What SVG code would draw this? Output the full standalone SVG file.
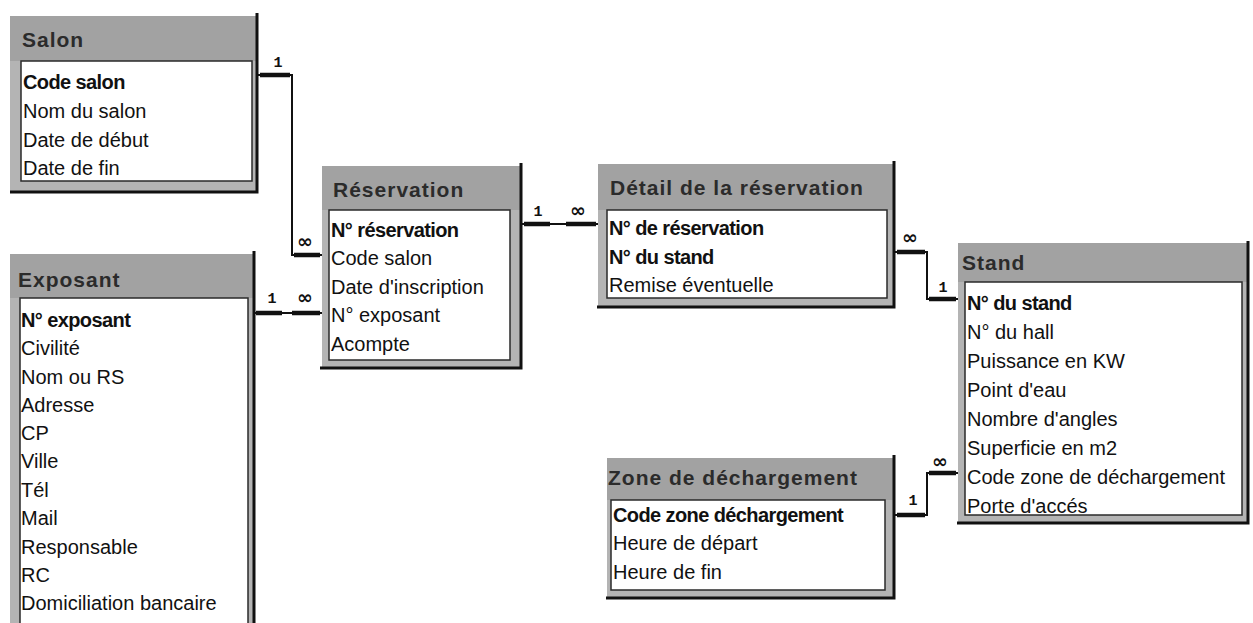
<svg xmlns="http://www.w3.org/2000/svg" width="1253" height="623" viewBox="0 0 1253 623">
<style>
  .frame { fill: #b4b4b4; }
  .title { fill: #a2a2a2; }
  .edge { stroke: #111; stroke-width: 3; fill: none; }
  .field { fill: #ffffff; stroke: #2a2a2a; stroke-width: 1.5; }
  .ttl { font-family: "Liberation Sans", Arial, sans-serif; font-size: 21px; font-weight: bold; fill: #2b2b2b; letter-spacing: 1px; }
  .row { font-family: "Liberation Sans", Arial, sans-serif; font-size: 20px; fill: #111; }
  .key { font-weight: bold; letter-spacing: -0.6px; }
  .ln { stroke: #111; stroke-width: 2; fill: none; }
  .thick { stroke: #111; stroke-width: 4.5; fill: none; }
  .one { font-family: "Liberation Mono", "Courier New", monospace; font-size: 15px; font-weight: bold; fill: #111; text-anchor: middle; }
  .many { font-family: "DejaVu Sans", sans-serif; font-size: 19px; font-weight: bold; fill: #111; text-anchor: middle; }
</style>

<g id="connectors">
  <path class="ln" d="M258,75 H292 V255 H322"/>
  <path class="thick" d="M260,75 H290 M294,255 H320"/>
  <text class="one" x="278" y="67">1</text>
  <text class="many" x="305" y="248">∞</text>

  <path class="ln" d="M255,313 H322"/>
  <path class="thick" d="M256,313 H282 M292,313 H320"/>
  <text class="one" x="272" y="303">1</text>
  <text class="many" x="305" y="304">∞</text>

  <path class="ln" d="M522,224 H598"/>
  <path class="thick" d="M524,224 H550 M566,224 H596"/>
  <text class="one" x="538" y="216">1</text>
  <text class="many" x="578" y="217">∞</text>

  <path class="ln" d="M895,252 H927 V299 H958"/>
  <path class="thick" d="M897,252 H925 M929,299 H956"/>
  <text class="many" x="910" y="244">∞</text>
  <text class="one" x="943" y="292">1</text>

  <path class="ln" d="M895,515 H927 V473 H958"/>
  <path class="thick" d="M897,515 H925 M929,473 H956"/>
  <text class="many" x="940" y="468">∞</text>
  <text class="one" x="913" y="505">1</text>
</g>

<g id="salon">
  <rect class="frame" x="10" y="16" width="248" height="176"/>
  <rect class="title" x="10" y="16" width="248" height="45"/>
  <path class="edge" d="M257,13 V192 H10"/>
  <rect class="field" x="21" y="61" width="231" height="120"/>
  <text class="ttl" x="22" y="47">Salon</text>
  <text class="row key" x="23" y="89">Code salon</text>
  <text class="row" x="23" y="118">Nom du salon</text>
  <text class="row" x="23" y="147">Date de début</text>
  <text class="row" x="23" y="175">Date de fin</text>
</g>

<g id="exposant">
  <rect class="frame" x="10" y="254" width="245" height="372"/>
  <rect class="title" x="10" y="254" width="245" height="44"/>
  <path class="edge" d="M254,251 V626"/>
  <rect class="field" x="20" y="298" width="228" height="330"/>
  <text class="ttl" x="18" y="287">Exposant</text>
  <text class="row key" x="21" y="327">N° exposant</text>
  <text class="row" x="21" y="355">Civilité</text>
  <text class="row" x="21" y="384">Nom ou RS</text>
  <text class="row" x="21" y="412">Adresse</text>
  <text class="row" x="21" y="440">CP</text>
  <text class="row" x="21" y="468">Ville</text>
  <text class="row" x="21" y="497">Tél</text>
  <text class="row" x="21" y="525">Mail</text>
  <text class="row" x="21" y="554">Responsable</text>
  <text class="row" x="21" y="582">RC</text>
  <text class="row" x="21" y="610">Domiciliation bancaire</text>
</g>

<g id="reservation">
  <rect class="frame" x="322" y="166" width="200" height="202"/>
  <rect class="title" x="322" y="166" width="200" height="44"/>
  <path class="edge" d="M521,163 V368 H320"/>
  <rect class="field" x="329" y="210" width="181" height="150"/>
  <text class="ttl" x="333" y="197">Réservation</text>
  <text class="row key" x="331" y="237">N° réservation</text>
  <text class="row" x="331" y="265">Code salon</text>
  <text class="row" x="331" y="294">Date d'inscription</text>
  <text class="row" x="331" y="322">N° exposant</text>
  <text class="row" x="331" y="351">Acompte</text>
</g>

<g id="detail">
  <rect class="frame" x="598" y="164" width="297" height="143"/>
  <rect class="title" x="598" y="164" width="297" height="46"/>
  <path class="edge" d="M894,161 V307 H597"/>
  <rect class="field" x="607" y="210" width="280" height="88"/>
  <text class="ttl" x="610" y="195">Détail de la réservation</text>
  <text class="row key" x="609" y="235">N° de réservation</text>
  <text class="row key" x="609" y="264">N° du stand</text>
  <text class="row" x="609" y="292">Remise éventuelle</text>
</g>

<g id="stand">
  <rect class="frame" x="958" y="243" width="290" height="280"/>
  <rect class="title" x="958" y="243" width="290" height="39"/>
  <path class="edge" d="M1248,241 V523 H957"/>
  <rect class="field" x="965" y="282" width="277" height="233"/>
  <text class="ttl" x="962" y="270">Stand</text>
  <text class="row key" x="967" y="310">N° du stand</text>
  <text class="row" x="967" y="339">N° du hall</text>
  <text class="row" x="967" y="368">Puissance en KW</text>
  <text class="row" x="967" y="397">Point d'eau</text>
  <text class="row" x="967" y="426">Nombre d'angles</text>
  <text class="row" x="967" y="455">Superficie en m2</text>
  <text class="row" x="967" y="484">Code zone de déchargement</text>
  <text class="row" x="967" y="513">Porte d'accés</text>
</g>

<g id="zone">
  <rect class="frame" x="607" y="458" width="288" height="140"/>
  <rect class="title" x="607" y="458" width="288" height="42"/>
  <path class="edge" d="M894,455 V598 H606"/>
  <rect class="field" x="611" y="500" width="274" height="90"/>
  <text class="ttl" x="608" y="485">Zone de déchargement</text>
  <text class="row key" x="613" y="522">Code zone déchargement</text>
  <text class="row" x="613" y="550">Heure de départ</text>
  <text class="row" x="613" y="579">Heure de fin</text>
</g>
</svg>
